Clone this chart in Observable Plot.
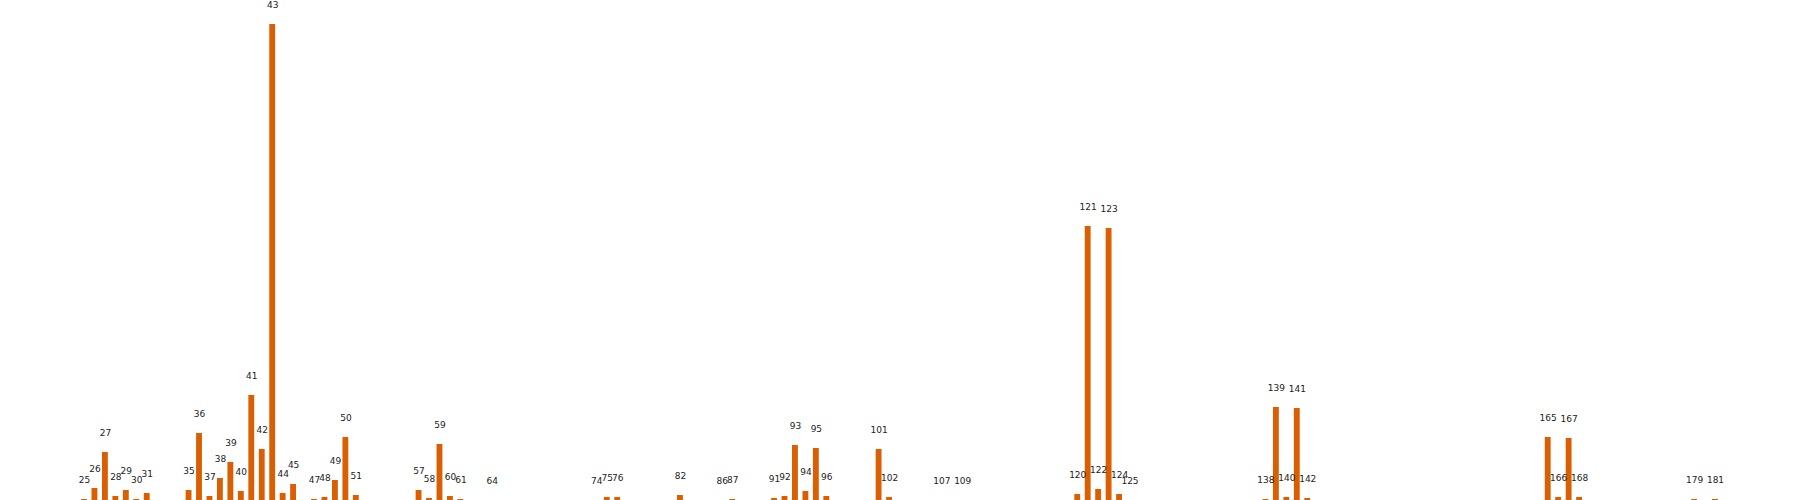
<!DOCTYPE html>
<html>
<head>
<meta charset="UTF-8">
<script src="https://cdn.jsdelivr.net/npm/d3@7"></script>
<script src="https://cdn.jsdelivr.net/npm/@observablehq/plot@0.6"></script>
<style>body{margin:0;background:#fff}</style>
</head>
<body>
<div id="chart"></div>
<script>
const ids = [25,26,27,28,29,30,31,35,36,37,38,39,40,41,42,43,44,45,47,48,49,50,51,57,58,59,60,61,64,
  74,75,76,82,86,87,91,92,93,94,95,96,101,102,107,109,120,121,122,123,124,125,138,139,140,141,142,165,166,167,168,179,181];
const values = [1,12,48,4,10,1,7,10,67,4,22,38,9,105,51,476,7,16,1,3,20,63,5,10,2,56,4,1,0,
  0,3,3,5,0,1,2,4,55,9,52,4,51,3,0,0,6,274,11,272,6,0,1,93,3,92,2,63,3,62,3,1,1];
const data = ids.map((id, k) => ({id, value: values[k]}));

const chart = Plot.plot({
  width: 1800,
  height: 500,
  marginTop: 24,
  marginBottom: 0,
  marginLeft: 84,
  marginRight: 85,
  x: {domain: [25, 181], axis: null},
  y: {domain: [0, 476], axis: null},
  style: {fontFamily: "DejaVu Sans", fontSize: "9px"},
  marks: [
    Plot.rectY(data, {x1: d => d.id - 0.28, x2: d => d.id + 0.28, y: "value", fill: "#d95f02"}),
    Plot.text(data, {x: "id", y: "value", text: d => String(d.id), dy: -19, fill: "#222"})
  ]
});
document.getElementById("chart").appendChild(chart);
</script>
</body>
</html>
